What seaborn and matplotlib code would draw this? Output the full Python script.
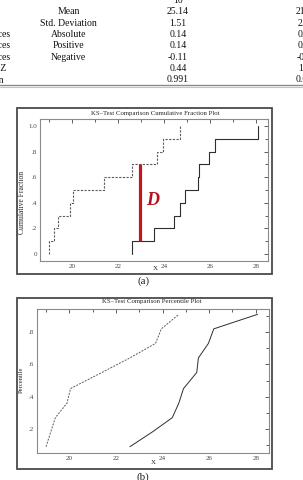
"""Two-sample KS test: summary table, cumulative fraction plot (a), percentile plot (b)."""
import numpy as np
import pandas as pd
import matplotlib
matplotlib.use("Agg")
import matplotlib.pyplot as plt
from matplotlib.patches import Rectangle
from matplotlib.lines import Line2D
import seaborn as sns

# the two samples (n = 10 each)
SAMPLE_SOLID = [22.6, 23.55, 24.42, 24.7, 24.9, 25.47, 25.54, 25.97, 26.2, 28.08]
SAMPLE_DASHED = [19.0, 19.2, 19.4, 19.9, 20.05, 21.4, 22.6, 23.7, 23.95, 24.7]
PERCENTILES = [0.09, 0.18, 0.27, 0.36, 0.45, 0.55, 0.64, 0.73, 0.82, 0.91]

# KS distance marker
D_X = 22.95
D_LOW, D_HIGH = 0.1, 0.7

# summary table (cropped at the left and right edges of the picture)
ROW_GROUPS = ["N", "", "", "Most Extreme Differences", "Most Extreme Differences",
              "Most Extreme Differences", "Kolmogorov-Smirnov Z", "Asymp. Significan"]
ROW_LABELS = ["", "Mean", "Std. Deviation", "Absolute", "Positive", "Negative", "", ""]
COL_1 = ["10", "25.14", "1.51", "0.14", "0.14", "-0.11", "0.44", "0.991"]
COL_2 = ["10", "21.39", "2.18", "0.60", "0.00", "-0.60", "1.34", "0.055"]

X_MAJOR = [20, 22, 24, 26, 28]
X_MINOR = [19, 21, 23, 25, 27]

W, H = 303, 480
SERIF = ["Liberation Serif", "DejaVu Serif"]


def fx(px):
    return px / W


def fy(py):
    return 1 - py / H


sns.set_style("white")
plt.rcParams["font.family"] = SERIF

fig = plt.figure(figsize=(W / 100, H / 100), dpi=100)
fig.patch.set_facecolor("white")

# ---- table -------------------------------------------------------------
row_y = [-0.7, 10.7, 22.2, 33.5, 44.9, 56.3, 67.7, 79.0]
for y, grp, lab, v1, v2 in zip(row_y, ROW_GROUPS, ROW_LABELS, COL_1, COL_2):
    kw = dict(fontsize=7, va="center_baseline", color="#111")
    if grp == "Most Extreme Differences":
        fig.text(fx(10.5), fy(y), grp, ha="right", **kw)
    elif grp == "Kolmogorov-Smirnov Z":
        fig.text(fx(6.5), fy(y), grp, ha="right", **kw)
    elif grp.startswith("Asymp"):
        fig.text(fx(3.2), fy(y), grp, ha="right", **kw)
    if lab:
        fig.text(fx(68.5), fy(y), lab, ha="center", **kw)
    fig.text(fx(178), fy(y), v1, ha="center", **kw)
    fig.text(fx(306.5), fy(y), v2, ha="center", **kw)
fig.add_artist(Line2D([0, 1], [fy(85.3), fy(85.3)], color="#8a8a8a", lw=1.0))
fig.add_artist(Line2D([0, 1], [fy(87.0), fy(87.0)], color="#c4c4c4", lw=0.8))

# ---- panels ------------------------------------------------------------
ax_a = fig.add_axes([fx(40), fy(261), (268 - 40) / W, (261 - 119) / H])
ax_b = fig.add_axes([fx(36.7), fy(453), (269 - 36.7) / W, (453 - 309) / H])

for top, bottom in [(108, 274), (298, 469)]:
    fig.add_artist(Rectangle((fx(17), fy(bottom)), (272 - 17) / W, (bottom - top) / H,
                             transform=fig.transFigure, fill=False, lw=1.3, ec="#4a4a4a"))

# (a) cumulative fraction
sns.ecdfplot(x=SAMPLE_DASHED, ax=ax_a, color="#5a5a5a", lw=0.8, linestyle=(0, (2, 1.3)))
sns.ecdfplot(x=SAMPLE_SOLID, ax=ax_a, color="#2e2e2e", lw=0.8)
ax_a.plot([D_X, D_X], [D_LOW, D_HIGH], color="#c3161f", lw=2.3, solid_capstyle="butt")
ax_a.text(23.52, 0.42, "D", color="#b5121b", fontsize=13, fontstyle="italic",
          fontweight="bold", ha="center", va="center")
ax_a.set_xlim(18.61, 28.52)
ax_a.set_ylim(-0.055, 1.055)
ax_a.set_yticks([0, 0.2, 0.4, 0.6, 0.8, 1.0])
ax_a.set_yticklabels(["0", ".2", ".4", ".6", ".8", "1.0"])
ax_a.set_yticks([0.1, 0.3, 0.5, 0.7, 0.9], minor=True)
ax_a.set_ylabel("Cumulative Fraction", fontsize=5.5, va="center")
ax_a.yaxis.set_label_coords(-0.079, 0.41)

# (b) percentile plot
sns.lineplot(x=SAMPLE_DASHED, y=PERCENTILES, ax=ax_b, color="#5a5a5a", lw=0.7,
             linestyle=(0, (2, 1.3)), estimator=None, sort=False)
sns.lineplot(x=SAMPLE_SOLID, y=PERCENTILES, ax=ax_b, color="#2e2e2e", lw=0.7,
             estimator=None, sort=False)
ax_b.set_xlim(18.60, 28.57)
ax_b.set_ylim(0.051, 0.943)
ax_b.set_yticks([0.2, 0.4, 0.6, 0.8])
ax_b.set_yticklabels([".2", ".4", ".6", ".8"])
ax_b.set_yticks([0.1, 0.3, 0.5, 0.7, 0.9], minor=True)
ax_b.set_ylabel("Percentile", fontsize=4.8, va="center")
ax_b.yaxis.set_label_coords(-0.065, 0.507)

for ax in (ax_a, ax_b):
    ax.set_facecolor("white")
    ax.set_xticks(X_MAJOR)
    ax.set_xticks(X_MINOR, minor=True)
    ax.set_xlabel("X", fontsize=5)
    ax.tick_params(which="both", direction="in", top=True, right=True,
                   colors="#444444", width=0.6, labelsize=5, pad=2)
    ax.tick_params(which="major", length=3)
    ax.tick_params(which="minor", length=2)
    for s in ax.spines.values():
        s.set_color("#8a8a8a")
        s.set_linewidth(0.8)
ax_a.xaxis.set_label_coords(0.504, -0.056)
ax_b.xaxis.set_label_coords(0.50, -0.069)
ax_a.xaxis.label.set_va("center")
ax_b.xaxis.label.set_va("center")

fig.text(fx(155), fy(113.5), "KS\u2013Test Comparison Cumulative Fraction Plot",
         ha="center", va="center", fontsize=4.9)
fig.text(fx(152), fy(301.7), "KS\u2013Test Comparison Percentile Plot",
         ha="center", va="center", fontsize=4.9)
fig.text(fx(144), fy(281.5), "(a)", ha="center", va="center", fontsize=8)
fig.text(fx(143), fy(477.5), "(b)", ha="center", va="center", fontsize=8)

fig.savefig("out.png", dpi=100)
